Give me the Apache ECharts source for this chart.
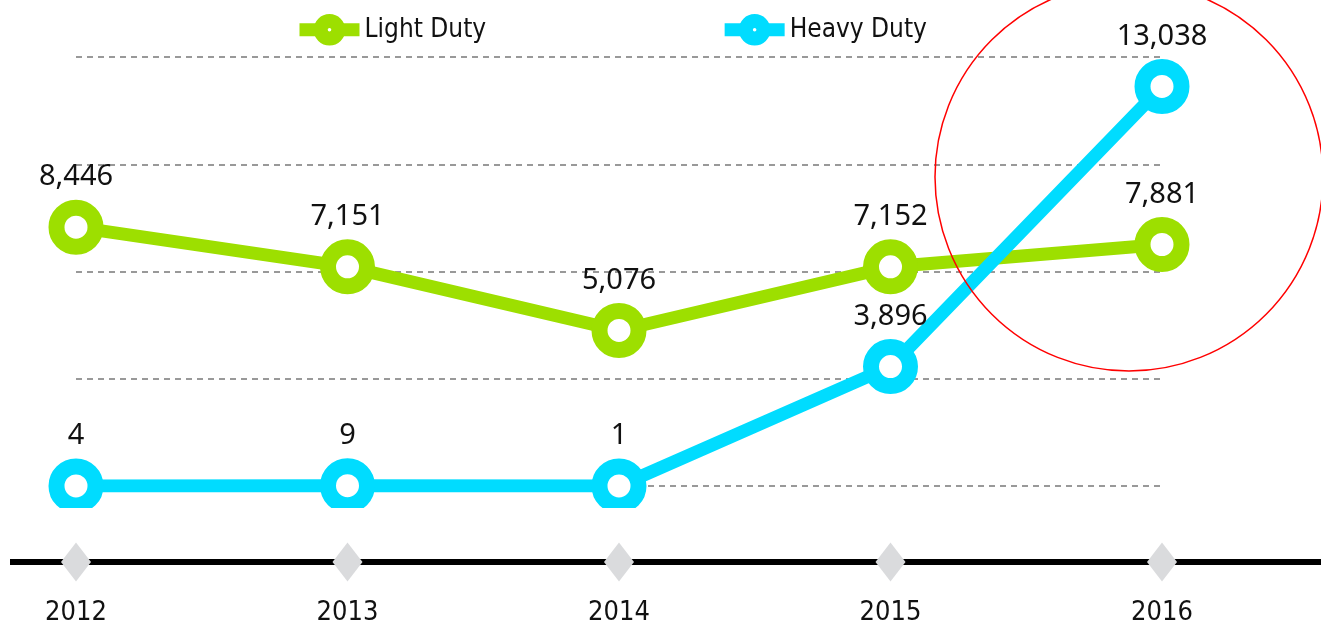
<!DOCTYPE html>
<html>
<head>
<meta charset="utf-8">
<script src="https://cdn.jsdelivr.net/npm/echarts@6/dist/echarts.min.js"></script>
<style>
  html, body { margin: 0; padding: 0; background: #fff; }
  #main { width: 1321px; height: 629px; }
</style>
</head>
<body>
<div id="main"></div>
<script>
var years = ['2012', '2013', '2014', '2015', '2016'];
var lightDuty = [8446, 7151, 5076, 7152, 7881];
var heavyDuty = [4, 9, 1, 3896, 13038];
var yTicks = [0, 3500, 7000, 10500, 14000];
var baseline = [0, 0, 0, 0, 0];

var narrow = '"Liberation Sans Narrow", "DejaVu Sans Condensed", sans-serif';
var green = '#9ddf00';
var cyan = '#00dcff';

var myChart = echarts.init(document.getElementById('main'));

function lineSeries(name, color, data) {
  return {
    name: name,
    type: 'line',
    xAxisIndex: 0,
    yAxisIndex: 0,
    data: data,
    symbol: 'circle',
    symbolSize: 39,
    showAllSymbol: true,
    lineStyle: { color: color, width: 13 },
    itemStyle: { color: '#fff', borderColor: color, borderWidth: 16 },
    label: {
      show: true,
      position: 'top',
      distance: 8,
      color: '#111',
      fontFamily: '"Noto Sans", sans-serif',
      fontSize: 29,
      formatter: function (p) { return p.value.toLocaleString('en-US'); }
    },
    emphasis: { disabled: true },
    z: 3
  };
}

var option = {
  animation: false,
  legend: {
    data: ['Light Duty', 'Heavy Duty'],
    left: 288,
    top: 9,
    itemWidth: 60,
    itemHeight: 22,
    itemGap: 232,
    lineStyle: { width: 13 },
    itemStyle: { borderWidth: 14 },
    textStyle: { fontFamily: narrow, fontSize: 26, color: '#111' }
  },
  grid: [
    { left: 76, right: 159, top: 57, bottom: 143 },
    { left: 76, right: 159, top: 552, bottom: 67 }
  ],
  xAxis: [
    {
      gridIndex: 0, type: 'category', data: years, boundaryGap: false,
      axisLine: { show: false }, axisTick: { show: false }, axisLabel: { show: false }
    },
    {
      gridIndex: 1, type: 'category', data: years, boundaryGap: false,
      axisLine: { show: false }, axisTick: { show: false },
      axisLabel: { margin: 37, fontFamily: narrow, fontSize: 27, color: '#111' }
    }
  ],
  yAxis: [
    {
      gridIndex: 0, type: 'value', min: yTicks[0], max: yTicks[yTicks.length - 1], interval: 3500,
      axisLine: { show: false }, axisTick: { show: false }, axisLabel: { show: false },
      splitLine: { show: true, lineStyle: { color: '#999', width: 2, type: [6, 5] } }
    },
    {
      gridIndex: 1, type: 'value', min: 0, max: 1, show: false
    }
  ],
  graphic: [
    {
      type: 'rect', z: 10,
      shape: { x: 0, y: 508, width: 1321, height: 34 },
      style: { fill: '#fff' }
    },
    {
      type: 'line', z: 11,
      shape: { x1: 10, y1: 562, x2: 1321, y2: 562 },
      style: { stroke: '#000', lineWidth: 6 }
    },
    {
      type: 'circle', z: 12,
      shape: { cx: 1129, cy: 177, r: 194 },
      style: { fill: 'none', stroke: '#ff0000', lineWidth: 1.5 }
    }
  ],
  series: [
    lineSeries('Light Duty', green, lightDuty),
    lineSeries('Heavy Duty', cyan, heavyDuty),
    {
      type: 'scatter',
      xAxisIndex: 1,
      yAxisIndex: 1,
      data: baseline,
      symbol: 'diamond',
      symbolSize: [30, 39],
      itemStyle: { color: '#dadbdd', opacity: 1 },
      emphasis: { disabled: true },
      z: 20
    }
  ]
};

myChart.setOption(option);
</script>
</body>
</html>
